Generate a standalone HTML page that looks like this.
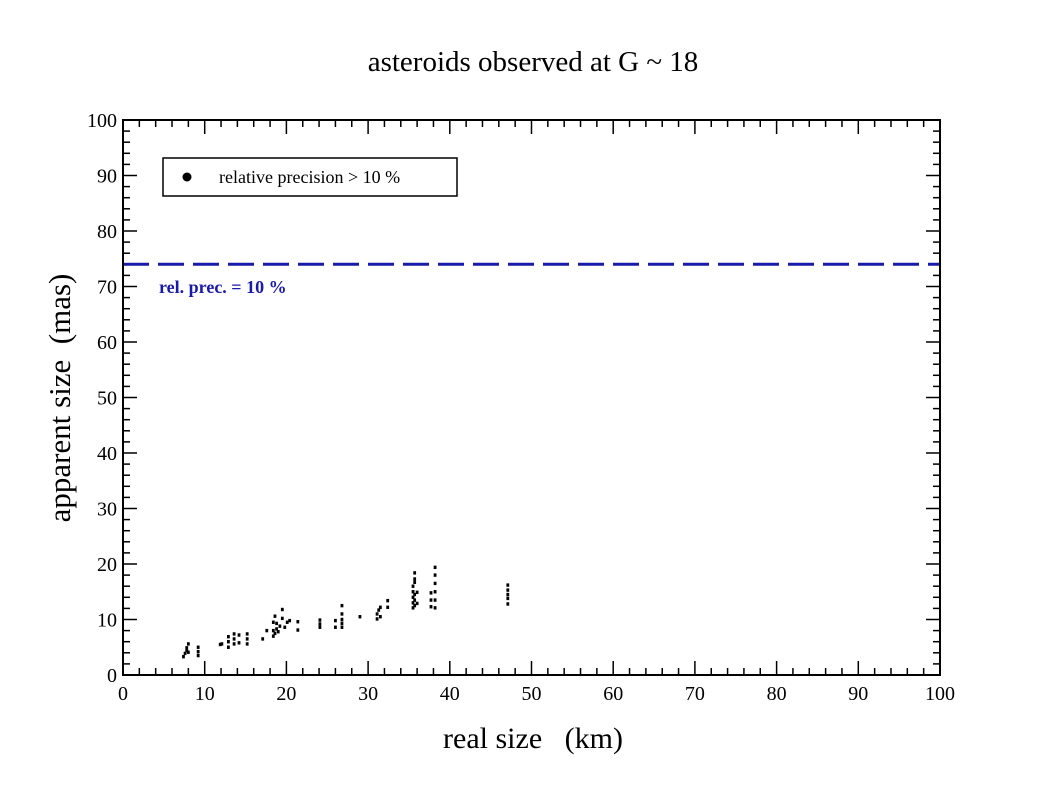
<!DOCTYPE html>
<html><head><meta charset="utf-8"><style>
body{margin:0;background:#fff;}
svg text{font-family:"Liberation Serif",serif;white-space:pre;}
</style></head><body>
<svg id="chart" width="1058" height="793" viewBox="0 0 1058 793" xmlns="http://www.w3.org/2000/svg">
<rect width="1058" height="793" fill="#fff"/>
<text x="533" y="71" font-size="29" text-anchor="middle">asteroids observed at G ~ 18</text>
<text x="533" y="748" font-size="30" text-anchor="middle" xml:space="preserve">real size   (km)</text>
<text transform="translate(70,398) rotate(-90)" font-size="31" text-anchor="middle" xml:space="preserve">apparent size  (mas)</text>
<g id="axes"></g>
<g id="marks"></g>
<rect x="123" y="120" width="817" height="555" fill="none" stroke="#000" stroke-width="2"/>
<g>
<rect x="163" y="158" width="294" height="38" fill="#fff" stroke="#000" stroke-width="1.5"/>
<circle cx="187" cy="177" r="4.5" fill="#000"/>
<text x="219" y="183" font-size="18">relative precision &gt; 10 %</text>
</g>
<text x="159" y="293" font-size="18" font-weight="bold" fill="#1a1aa8">rel. prec. = 10 %</text>
</svg>
<script>
const xTicks=[0,10,20,30,40,50,60,70,80,90,100];
const yTicks=[0,10,20,30,40,50,60,70,80,90,100];
const threshold=74;
const ptsX=[7.4,7.6,7.8,7.8,8.0,8.0,9.2,9.2,9.2,11.9,12.1,12.9,12.9,12.9,13.6,13.6,13.6,14.2,14.2,15.2,15.2,15.2,17.1,17.6,18.4,18.4,18.4,18.6,18.6,18.8,18.8,19.0,19.2,19.5,19.5,19.8,20.1,20.4,21.4,21.4,24.1,24.1,24.1,26.0,26.0,26.8,26.8,26.8,26.8,26.8,29.0,31.1,31.1,31.3,31.5,31.5,32.4,32.4,35.5,35.5,35.5,35.5,35.5,35.7,35.7,35.7,35.7,35.7,35.7,36.0,36.0,37.7,37.7,37.7,38.2,38.2,38.2,38.2,38.2,38.2,47.1,47.1,47.1,47.1,47.1];
const ptsY=[3.3,3.9,4.4,4.9,4.1,5.6,3.5,4.2,5.0,5.5,5.6,5.0,6.0,6.9,5.6,6.5,7.4,5.8,7.2,5.6,6.5,7.4,6.5,8.0,7.0,8.0,9.5,7.5,10.6,8.3,9.3,7.8,8.8,10.2,11.8,8.6,9.5,9.8,8.1,9.6,8.6,9.2,9.9,8.6,9.8,8.6,9.3,10.0,11.0,12.5,10.5,10.1,11.0,11.7,10.5,12.2,12.2,13.4,12.1,13.0,14.0,15.0,16.0,12.5,13.5,14.5,16.7,17.3,18.4,12.9,14.9,12.3,13.5,14.8,12.1,13.5,15.0,16.5,18.0,19.4,12.8,13.8,14.5,15.3,16.2];
const X0=123,X1=940,Y0=675,Y1=120;
const sx=v=>X0+(v-0)/100*(X1-X0);
const sy=v=>Y0-(v-0)/100*(Y0-Y1);
const NS="http://www.w3.org/2000/svg";
const axes=document.getElementById('axes'),marks=document.getElementById('marks');
function ln(x1,y1,x2,y2,w,parent,name){const l=document.createElementNS(NS,'line');
l.setAttribute('x1',x1);l.setAttribute('y1',y1);l.setAttribute('x2',x2);l.setAttribute('y2',y2);
l.setAttribute('stroke','#000');l.setAttribute('stroke-width',w);


parent.appendChild(l);return l;}
for(let v=0;v<=100;v+=2){
 const major=v%10===0,L=major?14:7;
 const x=sx(v);ln(x,Y0,x,Y0-L,1.5,axes,'x-tick');ln(x,Y1,x,Y1+L,1.5,axes,'x-tick');
 const y=sy(v);ln(X0,y,X0+L,y,1.5,axes,'y-tick');ln(X1,y,X1-L,y,1.5,axes,'y-tick');
}
xTicks.forEach(v=>{const t=document.createElementNS(NS,'text');
t.setAttribute('x',sx(v));t.setAttribute('y',Y0+25);t.setAttribute('font-size','20');t.setAttribute('text-anchor','middle');
t.textContent=v;


axes.appendChild(t);});
yTicks.forEach(v=>{const t=document.createElementNS(NS,'text');
t.setAttribute('x',X0-6);t.setAttribute('y',sy(v)+7);t.setAttribute('font-size','20');t.setAttribute('text-anchor','end');
t.textContent=v;


axes.appendChild(t);});
const th=ln(X0,sy(threshold),X1,sy(threshold),3,marks,'threshold-line');
th.setAttribute('stroke','#1a1aa8');th.setAttribute('stroke-dasharray','26,9');
ptsX.forEach((xv,i)=>{const c=document.createElementNS(NS,'rect');
c.setAttribute('x',sx(xv)-1.4);c.setAttribute('y',sy(ptsY[i])-1.7);c.setAttribute('width',2.8);c.setAttribute('height',3.4);c.setAttribute('fill','#000');


marks.appendChild(c);});
</script>
</body></html>
